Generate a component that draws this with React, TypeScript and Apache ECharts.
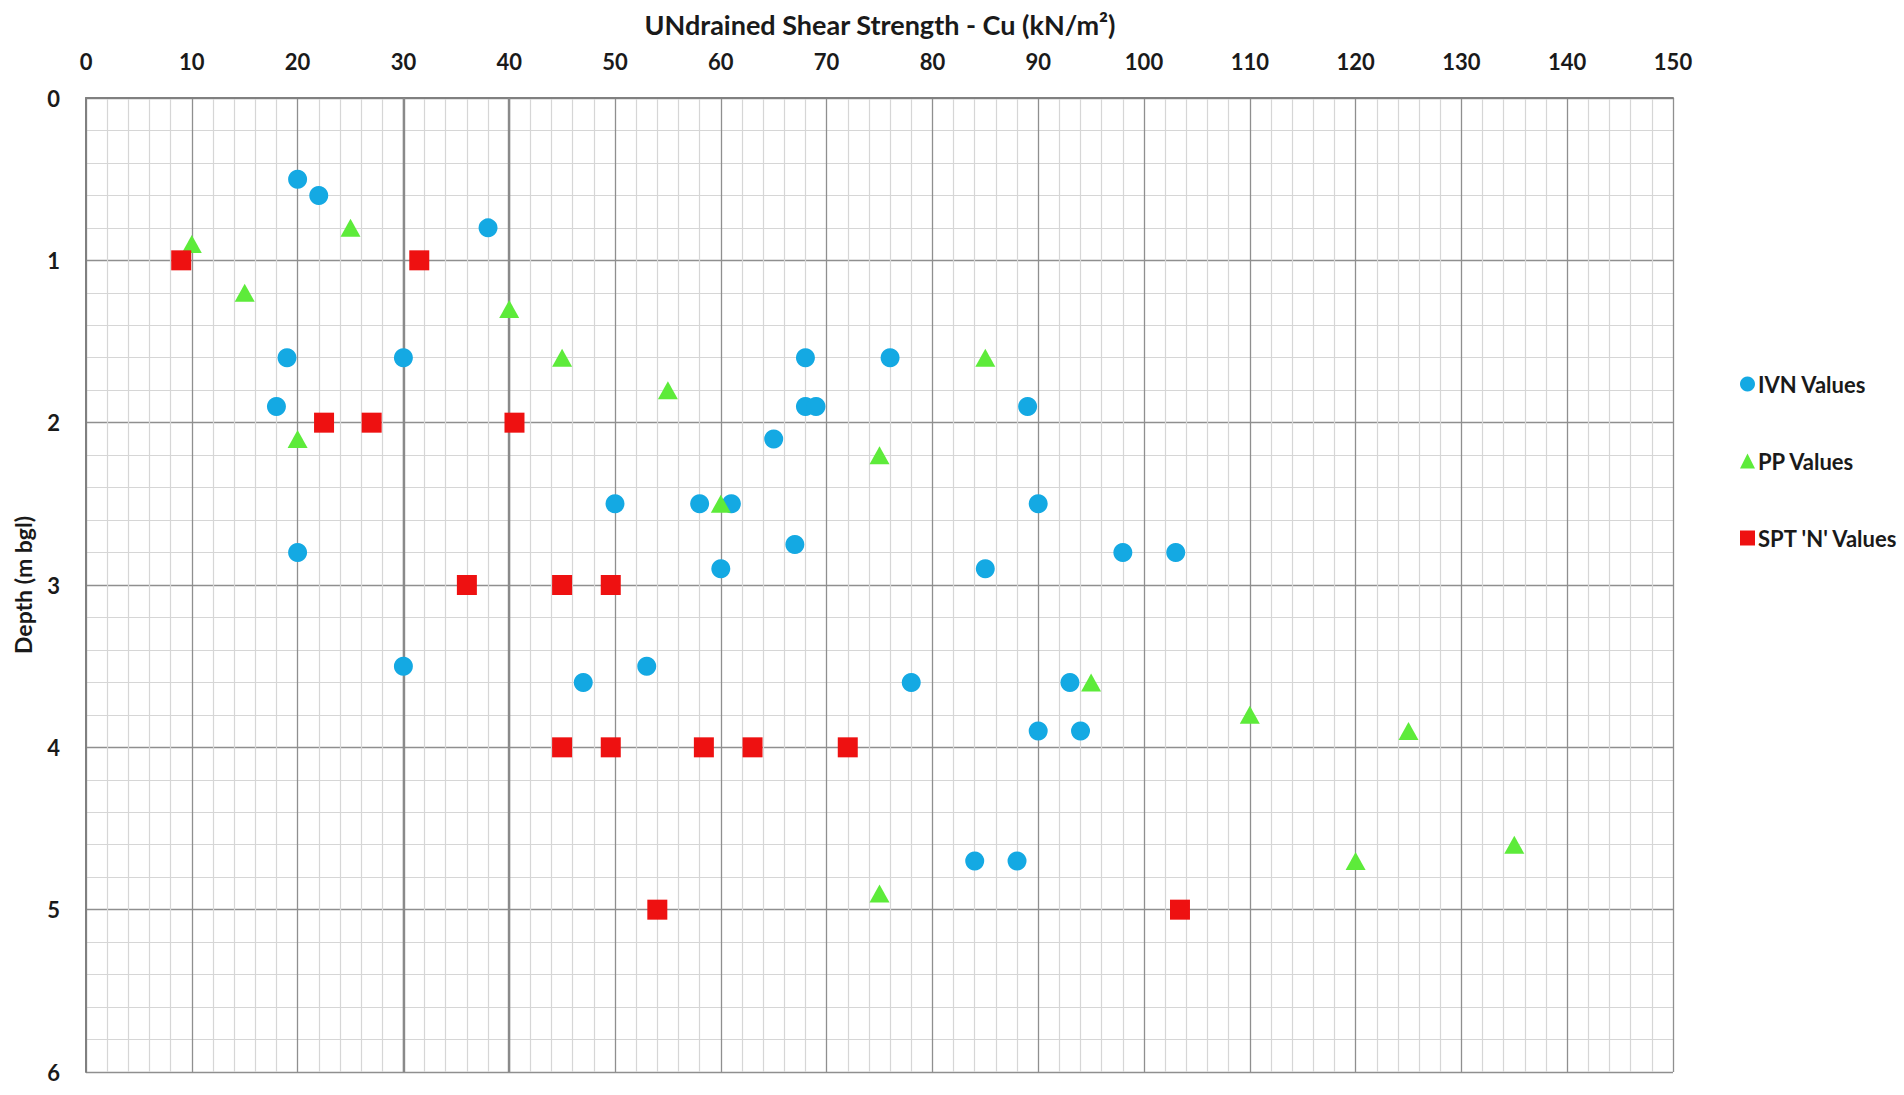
import React, { useEffect, useRef } from "react";
import * as echarts from "echarts";

const ivnValues: [number, number][] = [
  [20, 0.5], [22, 0.6], [38, 0.8], [19, 1.6], [30, 1.6], [18, 1.9],
  [68, 1.6], [76, 1.6], [68, 1.9], [69, 1.9], [89, 1.9], [65, 2.1],
  [50, 2.5], [58, 2.5], [61, 2.5], [90, 2.5], [67, 2.75], [20, 2.8],
  [60, 2.9], [85, 2.9], [98, 2.8], [103, 2.8], [30, 3.5], [47, 3.6],
  [53, 3.5], [78, 3.6], [93, 3.6], [90, 3.9], [94, 3.9], [84, 4.7], [88, 4.7],
];

const ppValues: [number, number][] = [
  [10, 0.9], [25, 0.8], [15, 1.2], [40, 1.3], [45, 1.6], [55, 1.8],
  [20, 2.1], [85, 1.6], [75, 2.2], [60, 2.5], [95, 3.6], [110, 3.8],
  [125, 3.9], [120, 4.7], [135, 4.6], [75, 4.9],
];

const sptValues: [number, number][] = [
  [9, 1.0], [31.5, 1.0], [22.5, 2.0], [27, 2.0], [40.5, 2.0],
  [36, 3.0], [45, 3.0], [49.6, 3.0], [45, 4.0], [49.6, 4.0],
  [58.4, 4.0], [63, 4.0], [72, 4.0], [54, 5.0], [103.4, 5.0],
];

const seriesNames = ["IVN Values", "PP Values", "SPT 'N' Values"];
const heavierGridX = [30, 40];

const FONT = "Lato";

export default function App() {
  const ref = useRef<HTMLDivElement>(null);
  useEffect(() => {
    if (!ref.current) return;
    const chart = echarts.init(ref.current, undefined, { renderer: "svg" });
    chart.setOption({
      animation: false,
      backgroundColor: "#ffffff",
      title: {
        text: "UNdrained Shear Strength - Cu (kN/m²)",
        left: 875,
        textAlign: "center",
        top: 6,
        textStyle: { fontFamily: FONT, fontWeight: "bold", fontSize: 27, color: "#1a1a1a" },
      },
      legend: {
        orient: "vertical",
        left: 1735,
        top: 368,
        itemGap: 55,
        itemWidth: 15,
        itemHeight: 15,
        itemStyle: { borderWidth: 0 },
        textStyle: { fontFamily: FONT, fontWeight: "bold", fontSize: 22, color: "#1a1a1a", padding: [0, 0, 0, -2] },
        data: seriesNames,
      },
      grid: { left: 86, top: 98, width: 1587, height: 974, containLabel: false },
      xAxis: {
        type: "value",
        position: "top",
        min: 0,
        max: 150,
        interval: 10,
        axisLine: { show: true, lineStyle: { color: "#808080", width: 2 } },
        axisTick: { show: false },
        axisLabel: { margin: 26, fontFamily: FONT, fontWeight: "bold", fontSize: 22, color: "#1a1a1a" },
        splitLine: { show: true, lineStyle: { color: "#8f8f8f", width: 1.3 } },
        minorTick: { show: false, splitNumber: 5 },
        minorSplitLine: { show: true, lineStyle: { color: "#d6d6d6", width: 1.2 } },
      },
      yAxis: {
        type: "value",
        inverse: true,
        min: 0,
        max: 6,
        interval: 1,
        name: "Depth (m bgl)",
        nameLocation: "middle",
        nameGap: 52,
        nameTextStyle: { fontFamily: FONT, fontWeight: "bold", fontSize: 23, color: "#1a1a1a" },
        axisLine: { show: true, lineStyle: { color: "#808080", width: 2 } },
        axisTick: { show: false },
        axisLabel: { margin: 26, fontFamily: FONT, fontWeight: "bold", fontSize: 22, color: "#1a1a1a" },
        splitLine: { show: true, lineStyle: { color: "#8f8f8f", width: 1.3 } },
        minorTick: { show: false, splitNumber: 5 },
        minorSplitLine: { show: true, lineStyle: { color: "#d6d6d6", width: 1.2 } },
      },
      series: [
        {
          name: seriesNames[0],
          type: "scatter",
          symbol: "circle",
          symbolSize: 19,
          itemStyle: { color: "#14A9E3", opacity: 1 },
          data: ivnValues,
          z: 3,
          markLine: {
            silent: true,
            symbol: "none",
            label: { show: false },
            lineStyle: { color: "#8a8a8a", width: 2.4, type: "solid" },
            data: heavierGridX.map((v) => ({ xAxis: v })),
            z: 1,
          },
        },
        {
          name: seriesNames[1],
          type: "scatter",
          symbol: "triangle",
          symbolSize: [20, 18],
          itemStyle: { color: "#5DEB3A", opacity: 1 },
          data: ppValues,
          z: 4,
        },
        {
          name: seriesNames[2],
          type: "scatter",
          symbol: "rect",
          symbolSize: 20,
          itemStyle: { color: "#EE1111", opacity: 1 },
          data: sptValues,
          z: 5,
        },
      ],
    });
    return () => chart.dispose();
  }, []);
  return (
    <div
      ref={ref}
      style={{ position: "absolute", left: 0, top: 0, width: 1904, height: 1095 }}
    />
  );
}
